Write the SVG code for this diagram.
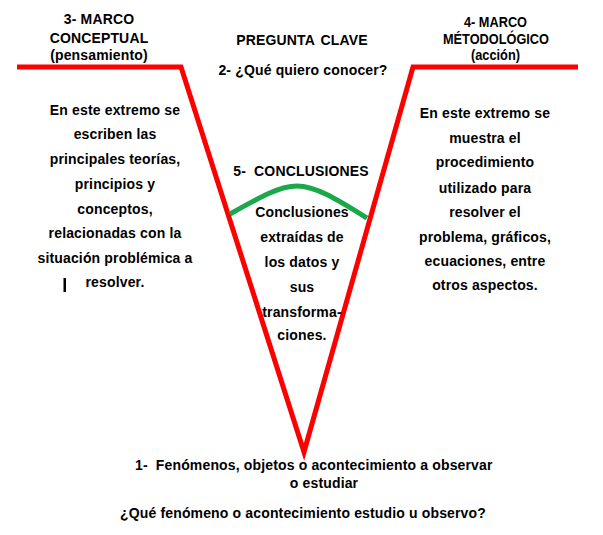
<svg xmlns="http://www.w3.org/2000/svg" width="603" height="535" viewBox="0 0 603 535">
<style>
text{font-family:"Liberation Sans",Arial,sans-serif;font-size:14px;font-weight:bold;fill:#000;text-anchor:middle;letter-spacing:0.15px}
.n{letter-spacing:0}
.red{fill:none;stroke:#ff0000;stroke-width:5;stroke-linejoin:miter}
.grn{fill:none;stroke:#1aa84a;stroke-width:5}
</style>
<rect width="603" height="535" fill="#fff"/>
<g id="connectors">
<polyline class="red" points="17,67 181,67 304,452 413,67 578,67"/>
<path class="grn" d="M230,214 C262,196 280,186 297,186 C316,186 338,200 367,218"/>
</g>
<g id="marco-conceptual">
<text x="99" y="24">3- MARCO</text>
<text x="99" y="43">CONCEPTUAL</text>
<text x="99" y="60">(pensamiento)</text>
<text x="115" y="115">En este extremo se</text>
<text x="115" y="139">escriben las</text>
<text x="115" y="164">principales teorías,</text>
<text x="115" y="189">principios y</text>
<text x="115" y="214">conceptos,</text>
<text x="115" y="238">relacionadas con la</text>
<text x="115" y="263">situación problémica a</text>
<text x="115" y="287">resolver.</text>
<rect x="63.5" y="278" width="2.5" height="14" fill="#000"/>
</g>
<g id="pregunta-clave">
<text x="302" y="45" style="word-spacing:2px">PREGUNTA CLAVE</text>
<text x="303" y="75">2- ¿Qué quiero conocer?</text>
</g>
<g id="marco-metodologico">
<text class="n" x="495.5" y="27" textLength="63" lengthAdjust="spacingAndGlyphs">4- MARCO</text>
<text class="n" x="496" y="43.5" textLength="106" lengthAdjust="spacingAndGlyphs">MÉTODOLÓGICO</text>
<text class="n" x="495.5" y="60" textLength="49" lengthAdjust="spacingAndGlyphs">(acción)</text>
<text x="485" y="118">En este extremo se</text>
<text x="485" y="143">muestra el</text>
<text x="485" y="167">procedimiento</text>
<text x="485" y="193">utilizado para</text>
<text x="485" y="217">resolver el</text>
<text x="485" y="242">problema, gráficos,</text>
<text x="485" y="266">ecuaciones, entre</text>
<text x="485" y="290">otros aspectos.</text>
</g>
<g id="conclusiones">
<text x="301" y="176" xml:space="preserve">5-  CONCLUSIONES</text>
<text x="302" y="217">Conclusiones</text>
<text x="302" y="242">extraídas de</text>
<text x="302" y="267">los datos y</text>
<text x="302" y="292">sus</text>
<text x="302" y="317">transforma-</text>
<text x="302" y="340">ciones.</text>
</g>
<g id="fenomenos">
<text x="135" y="470" style="text-anchor:start" xml:space="preserve">1-  Fenómenos, objetos o acontecimiento a observar</text>
<text x="324" y="488">o estudiar</text>
<text x="303" y="518">¿Qué fenómeno o acontecimiento estudio u observo?</text>
</g>
</svg>
